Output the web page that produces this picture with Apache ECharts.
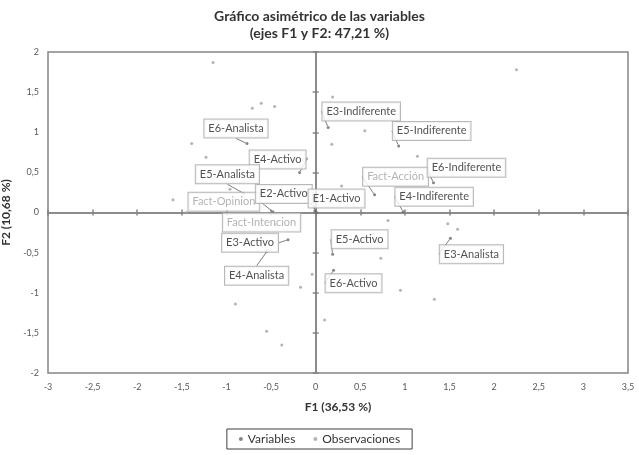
<!DOCTYPE html>
<html>
<head>
<meta charset="utf-8">
<script src="https://cdn.jsdelivr.net/npm/echarts@6/dist/echarts.min.js"></script>
<style>
html,body{margin:0;padding:0;background:#fff;}
#chart{width:639px;height:455px;}
</style>
</head>
<body>
<div id="chart"></div>
<script>
// variables (etiquetadas)
var varNames = ['E3-Indiferente','E5-Indiferente','E6-Analista','E4-Activo','E5-Analista','Fact-Opinion','E2-Activo','E1-Activo','Fact-Acción','E6-Indiferente','E4-Indiferente','Fact-Intencion','E3-Activo','E4-Analista','E5-Activo','E6-Activo','E3-Analista'];
var varX = [0.14, 0.93, -0.77, -0.18, -0.81, -0.48, -0.01, 0.01, 0.66, 1.32, 0.98, -0.45, -0.31, -0.55, 0.19, 0.20, 1.51];
var varY = [1.06, 0.83, 0.86, 0.50, 0.24, 0.01, 0.02, 0.00, 0.22, 0.37, 0.01, -0.15, -0.34, -0.49, -0.52, -0.72, -0.32];
// observaciones
var obsX = [-1.15, -0.71, -0.61, -0.46, -1.39, -1.23, -1.60, -0.96, -0.10, -1.45, 2.25, 0.19, 0.55, 0.18, 1.14, 0.29, 0.81, 1.48, 1.59, 0.73, -0.04, -0.17, -0.90, -0.55, -0.38, 0.95, 1.33, 0.10];
var obsY = [1.87, 1.30, 1.36, 1.32, 0.86, 0.69, 0.16, 0.29, 0.67, 0.00, 1.78, 1.44, 1.02, 0.85, 0.70, 0.33, -0.10, -0.14, -0.21, -0.57, -0.77, -0.93, -1.14, -1.48, -1.65, -0.97, -1.08, -1.34];

// desplazamiento de cada etiqueta respecto a su punto (px)
var calloutOffset = {
    'E3-Indiferente': [33, -16], 'E5-Indiferente': [33, -15], 'E6-Analista': [-11, -15],
    'E4-Activo': [-22, -13], 'E5-Analista': [-16, -19], 'Fact-Opinion': [-49, -10],
    'E2-Activo': [-31, -17], 'E1-Activo': [20, -14], 'Fact-Acción': [21, -18],
    'E6-Indiferente': [33, -15], 'E4-Indiferente': [31, -15], 'Fact-Intencion': [-14, -2],
    'E3-Activo': [-38, 3], 'E4-Analista': [-10, 24], 'E5-Activo': [27, -15],
    'E6-Activo': [20, 13], 'E3-Analista': [21, 16]
};

var FONT = 'Lato, "Open Sans", sans-serif';
function fmt(v) { return String(v).replace('.', ','); }

var varData = [];
for (var i = 0; i < varNames.length; i++) {
    var isFact = varNames[i].indexOf('Fact') === 0;
    varData.push({
        name: varNames[i],
        value: [varX[i], varY[i]],
        label: { color: isFact ? '#a0a0a0' : '#262626' },
        labelLine: { show: varNames[i] !== 'Fact-Intencion' }
    });
}
var obsData = [];
for (var j = 0; j < obsX.length; j++) obsData.push([obsX[j], obsY[j]]);

var axisCommon = { type: 'value', splitLine: { show: false } };
function xAx(extra) { return Object.assign({ min: -3, max: 3.5, interval: 0.5 }, axisCommon, extra); }
function yAx(extra) { return Object.assign({ min: -2, max: 2, interval: 0.5 }, axisCommon, extra); }
var lineStyle = { color: '#858585', width: 1.5 };

var myChart = echarts.init(document.getElementById('chart'));
var option = {
    animation: false,
    backgroundColor: '#fff',
    textStyle: { fontFamily: FONT },
    title: {
        text: 'Gráfico asimétrico de las variables\n(ejes F1 y F2: 47,21 %)',
        left: 'center',
        top: 3,
        textStyle: { fontFamily: FONT, fontSize: 14, fontWeight: 'bold', color: '#333', lineHeight: 17 }
    },
    legend: {
        bottom: 6,
        left: 'center',
        data: ['Variables', 'Observaciones'],
        borderColor: '#404040',
        borderWidth: 1,
        padding: [4, 12],
        itemGap: 18,
        itemWidth: 4,
        itemHeight: 4,
        textStyle: { fontFamily: FONT, fontSize: 12, color: '#333' }
    },
    grid: { left: 48, right: 11, top: 52, bottom: 82, show: true, borderColor: '#858585', borderWidth: 1.5, outerBoundsMode: 'none' },
    xAxis: [
        xAx({
            position: 'bottom',
            axisLine: { show: false, onZero: false },
            axisTick: { show: false },
            axisLabel: { formatter: fmt, fontSize: 9, color: '#595959', margin: 10 },
            name: 'F1 (36,53 %)', nameLocation: 'middle', nameGap: 28,
            nameTextStyle: { fontFamily: FONT, fontSize: 12, fontWeight: 'bold', color: '#333' }
        }),
        xAx({ position: 'bottom', axisLine: { onZero: true, onZeroAxisIndex: 0, lineStyle: lineStyle },
              axisTick: { show: true, length: 3, lineStyle: lineStyle }, axisLabel: { show: false } }),
        xAx({ position: 'top', axisLine: { onZero: true, onZeroAxisIndex: 0, lineStyle: lineStyle },
              axisTick: { show: true, length: 3, lineStyle: lineStyle }, axisLabel: { show: false } })
    ],
    yAxis: [
        yAx({
            position: 'left',
            axisLine: { show: false, onZero: false },
            axisTick: { show: false },
            axisLabel: { formatter: fmt, fontSize: 9, color: '#595959', margin: 9 },
            name: 'F2 (10,68 %)', nameLocation: 'middle', nameGap: 27, nameRotate: 90,
            nameTextStyle: { fontFamily: FONT, fontSize: 12, fontWeight: 'bold', color: '#333' }
        }),
        yAx({ position: 'left', axisLine: { onZero: true, onZeroAxisIndex: 0, lineStyle: lineStyle },
              axisTick: { show: true, length: 3, lineStyle: lineStyle }, axisLabel: { show: false } }),
        yAx({ position: 'right', axisLine: { onZero: true, onZeroAxisIndex: 0, lineStyle: lineStyle },
              axisTick: { show: true, length: 3, lineStyle: lineStyle }, axisLabel: { show: false } })
    ],
    series: [
        {
            name: 'Observaciones',
            type: 'scatter',
            symbol: 'circle',
            symbolSize: 3,
            itemStyle: { color: '#a0a0a0' },
            data: obsData,
            z: 2
        },
        {
            name: 'Variables',
            type: 'scatter',
            symbol: 'circle',
            symbolSize: 3,
            itemStyle: { color: '#666' },
            data: varData,
            z: 3,
            label: {
                show: true,
                position: 'inside',
                formatter: '{b}',
                fontFamily: FONT,
                fontSize: 11,
                backgroundColor: '#fff',
                borderColor: '#a6a6a6',
                borderWidth: 1,
                padding: [4, 4, 3, 4]
            },
            labelLine: { show: true, lineStyle: { color: '#7f7f7f', width: 1 } },
            labelLayout: function (params) {
                var off = calloutOffset[varNames[params.dataIndex]] || [0, 0];
                return { dx: off[0], dy: off[1] };
            }
        }
    ]
};
myChart.setOption(option);
</script>
</body>
</html>
